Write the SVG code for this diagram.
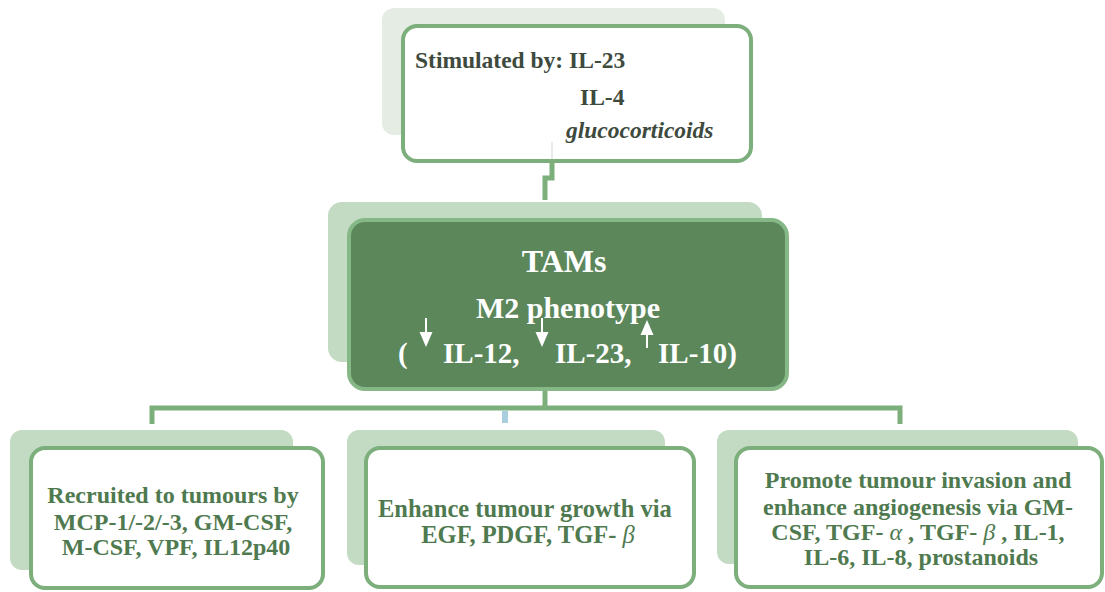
<svg xmlns="http://www.w3.org/2000/svg" width="1105" height="592" viewBox="0 0 1105 592">
  <defs>
    <style>
      .shade-top { fill: #e4ece4; }
      .shade { fill: #c3dbc3; }
      .box { fill: #ffffff; stroke: #7daf7d; stroke-width: 4; }
      .core { fill: #5b875b; stroke: #86b786; stroke-width: 4; }
      .link { fill: none; stroke: #7daf7d; stroke-width: 5; }
      .txt { font-family: "Liberation Serif", "DejaVu Serif", serif; font-weight: bold; }
      .dark { fill: #3d4a3d; }
      .green { fill: #4f7a4f; }
      .white { fill: #ffffff; }
      .arw { stroke: #ffffff; stroke-width: 2; fill: none; }
    </style>
  </defs>
  <rect width="1105" height="592" fill="#ffffff"/>

  <!-- connectors -->
  <g id="connectors">
    <polyline class="link" points="552,161 552,178 545,178 545,200"/>
    <line class="link" x1="545" y1="390" x2="545" y2="408"/>
    <polyline class="link" points="152,424 152,408 900,408 900,424"/>
    <rect x="502" y="411" width="6" height="12" fill="#a9cfdf"/>
  </g>

  <!-- stimuli -->
  <g id="node-stimuli">
    <rect class="shade-top" x="382" y="8" width="343" height="127" rx="12"/>
    <rect class="box" x="403" y="26" width="348" height="135" rx="14"/>
    <line x1="552" y1="142" x2="552" y2="159" stroke="#e8ece8" stroke-width="2"/>
    <text class="txt dark" x="415" y="68" font-size="23.5">Stimulated by: IL-23</text>
    <text class="txt dark" x="580" y="105" font-size="23.5">IL-4</text>
    <text class="txt dark" x="566" y="138" font-size="23.5" font-style="italic">glucocorticoids</text>
  </g>

  <!-- TAMs -->
  <g id="node-tams">
    <rect class="shade" x="328" y="202" width="434" height="160" rx="14"/>
    <rect class="core" x="349" y="220" width="438" height="169" rx="16"/>
    <text class="txt white" x="564" y="272" font-size="32" text-anchor="middle">TAMs</text>
    <text class="txt white" x="568" y="318" font-size="30" text-anchor="middle">M2 phenotype</text>
    <text class="txt white" x="398" y="363" font-size="29">(</text>
    <text class="txt white" x="443" y="363" font-size="29">IL-12,</text>
    <text class="txt white" x="555" y="363" font-size="29">IL-23,</text>
    <text class="txt white" x="658" y="363" font-size="29">IL-10)</text>
    <line class="arw" x1="426" y1="318" x2="426" y2="334"/>
    <polygon points="419.5,332 432.5,332 426,347" fill="#ffffff"/>
    <line class="arw" x1="542" y1="318" x2="542" y2="334"/>
    <polygon points="535.5,332 548.5,332 542,347" fill="#ffffff"/>
    <line class="arw" x1="647" y1="334" x2="647" y2="348"/>
    <polygon points="640.5,335 653.5,335 647,320" fill="#ffffff"/>
  </g>

  <!-- recruitment -->
  <g id="node-recruit">
    <rect class="shade" x="10" y="430" width="283" height="140" rx="12"/>
    <rect class="box" x="31" y="448" width="292" height="140" rx="14"/>
    <text class="txt green" font-size="24" text-anchor="middle">
      <tspan x="176" y="503">Recruited to tumours by</tspan>
      <tspan x="176" y="530">MCP-1/-2/-3, GM-CSF,</tspan>
      <tspan x="176" y="555">M-CSF, VPF, IL12p40</tspan>
    </text>
  </g>

  <!-- growth -->
  <g id="node-growth">
    <rect class="shade" x="347" y="430" width="318" height="135" rx="12"/>
    <rect class="box" x="366" y="448" width="328" height="139" rx="14"/>
    <text class="txt green" font-size="24.5" text-anchor="middle">
      <tspan x="528" y="517">Enhance tumour growth via</tspan>
      <tspan x="528" y="543">EGF, PDGF, TGF- <tspan font-style="italic" font-weight="normal">β</tspan></tspan>
    </text>
  </g>

  <!-- invasion -->
  <g id="node-invasion">
    <rect class="shade" x="717" y="430" width="361" height="134" rx="12"/>
    <rect class="box" x="736" y="448" width="366" height="139" rx="14"/>
    <text class="txt green" font-size="24" text-anchor="middle">
      <tspan x="921" y="488">Promote tumour invasion and</tspan>
      <tspan x="921" y="515">enhance angiogenesis via GM-</tspan>
      <tspan x="921" y="540">CSF, TGF- <tspan font-style="italic" font-weight="normal">α</tspan> , TGF- <tspan font-style="italic" font-weight="normal">β</tspan> , IL-1,</tspan>
      <tspan x="921" y="565">IL-6, IL-8, prostanoids</tspan>
    </text>
  </g>
</svg>
